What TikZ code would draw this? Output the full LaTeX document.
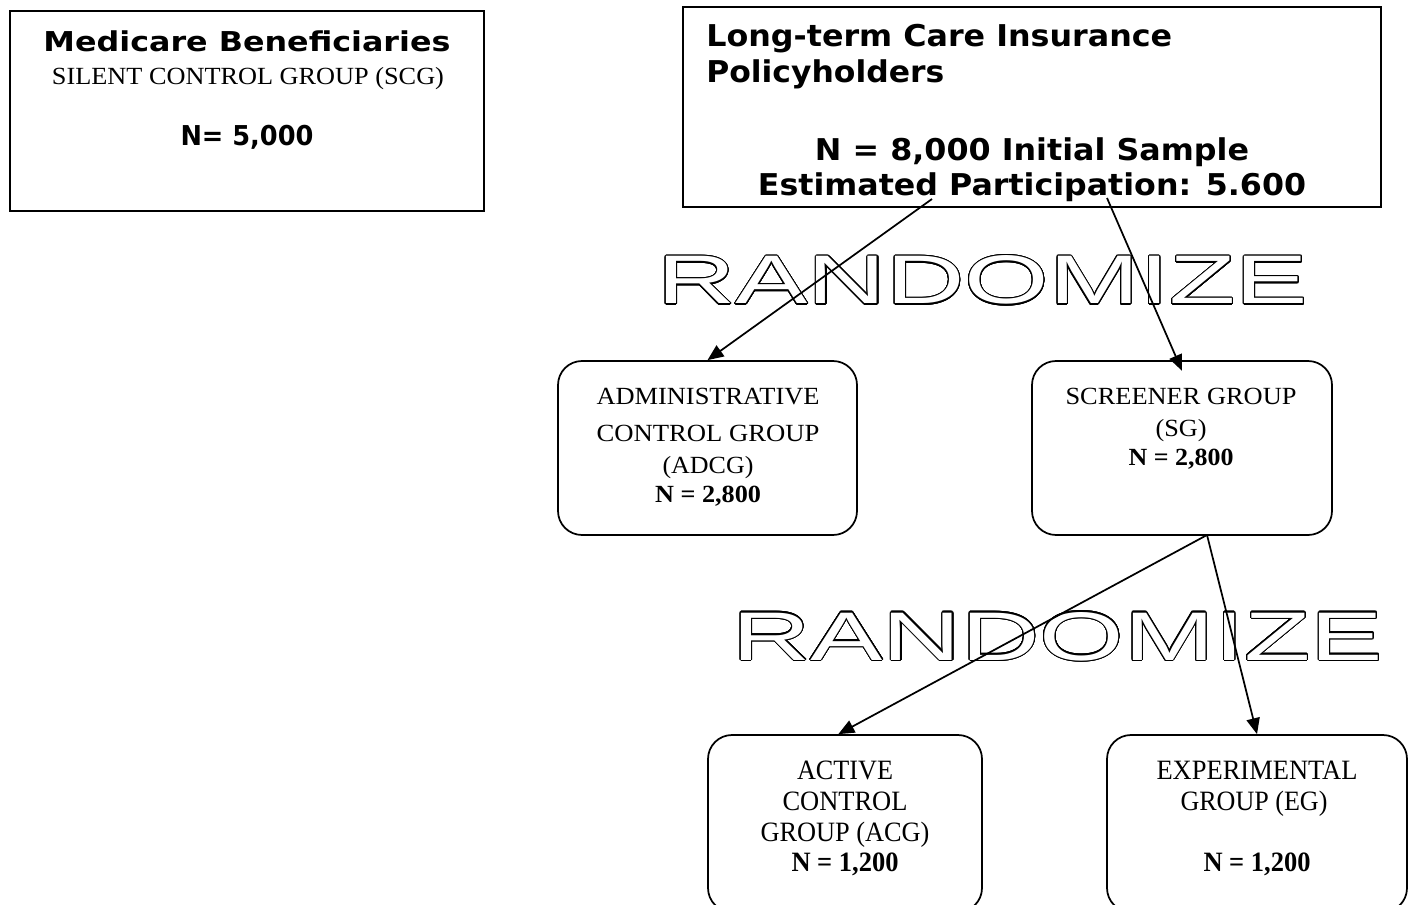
\documentclass[tikz,border=0pt]{standalone}
\usepackage{fontspec}
\usepackage{graphicx}
\usepackage[copies]{contour}
\setmainfont{Liberation Serif}
\newfontfamily\dv{DejaVu Sans}
\newfontfamily\lsans{Liberation Sans}
\usetikzlibrary{arrows.meta}
\newlength\px
\setlength\px{0.75pt}
\newcommand\fw[2]{\resizebox{#1\px}{\height}{#2}}
\contourlength{0.8pt}
\contournumber{32}
\tikzset{
  sqbox/.style={draw, line width=1.3pt, inner sep=0pt},
  rbox/.style={draw, line width=1.3pt, rounded corners=18pt, inner sep=0pt},
  lbl/.style={anchor=base, inner sep=0pt},
  hdr/.style={lbl, font=\dv\bfseries\fontsize{20.5pt}{24pt}\selectfont},
  ltcf/.style={lbl, font=\dv\bfseries\fontsize{22.5pt}{26pt}\selectfont},
  tms/.style={lbl, font=\fontsize{18.5pt}{22pt}\selectfont},
  tmsb/.style={lbl, font=\bfseries\fontsize{18.5pt}{22pt}\selectfont},
  tmbig/.style={lbl, font=\fontsize{21pt}{25pt}\selectfont},
  tmbigb/.style={lbl, font=\bfseries\fontsize{21pt}{25pt}\selectfont},
  rzt/.style={anchor=base west, inner sep=0pt, text=white},
  arr/.style={line width=1.3pt, -{Triangle[length=12pt,width=10pt]}},
}
\begin{document}
\begin{tikzpicture}[x=0.75pt, y=-0.75pt]
\useasboundingbox (0,0) rectangle (1412,905);
\begin{scope}
\clip (0,0) rectangle (1412,905);
% boxes
\node[sqbox, minimum width=355.5pt, minimum height=150pt] (mb) at (247,111) {};
\node[sqbox, minimum width=523.5pt, minimum height=150pt] (ltc) at (1032,107) {};
\node[rbox, minimum width=224.25pt, minimum height=130.5pt] (adcg) at (707.5,448) {};
\node[rbox, minimum width=225pt, minimum height=130.5pt] (sg) at (1182,448) {};
\node[rbox, minimum width=205.5pt, minimum height=132.75pt] (acg) at (845,823.5) {};
\node[rbox, minimum width=225pt, minimum height=132.75pt] (eg) at (1257,823.5) {};
\end{scope}
% Medicare box text
\node[hdr] (mb1) at (247,52) {\fw{407}{Medicare Beneficiaries}};
\node[tms] (mb2) at (248,85) {\fw{392}{SILENT CONTROL GROUP (SCG)}};
\node[hdr] (mb3) at (247,146) {\fw{133}{N= 5,000}};
% LTC box text
\node[ltcf, anchor=base west] (lt1) at (706,47) {\fw{466}{Long-term Care Insurance}};
\node[ltcf, anchor=base west] (lt2) at (706,83) {\fw{238}{Policyholders}};
\node[ltcf] (lt3) at (1032,161) {\fw{434}{N = 8,000 Initial Sample}};
\node[ltcf] (lt4) at (1032,196) {\fw{548}{Estimated Participation: 5.600}};
% ADCG text
\node[tms] (ad1) at (708,404) {\fw{223}{ADMINISTRATIVE}};
\node[tms] (ad2) at (708,441) {\fw{223}{CONTROL GROUP}};
\node[tms] (ad3) at (708,473) {\fw{91}{(ADCG)}};
\node[tmsb] (ad4) at (708,502) {\fw{106}{N = 2,800}};
% SG text
\node[tms] (sg1) at (1181,404) {\fw{231}{SCREENER GROUP}};
\node[tms] (sg2) at (1181,436) {\fw{51}{(SG)}};
\node[tmsb] (sg3) at (1181,465) {\fw{105}{N = 2,800}};
% ACG text
\node[tmbig] (ac1) at (845,779) {\fw{96}{ACTIVE}};
\node[tmbig] (ac2) at (845,810) {\fw{125}{CONTROL}};
\node[tmbig] (ac3) at (845,841) {\fw{169}{GROUP (ACG)}};
\node[tmbigb] (ac4) at (845,871) {\fw{107}{N = 1,200}};
% EG text
\node[tmbig] (eg1) at (1257,779) {\fw{201}{EXPERIMENTAL}};
\node[tmbig] (eg2) at (1254,810) {\fw{147}{GROUP (EG)}};
\node[tmbigb] (eg3) at (1257,871) {\fw{107}{N = 1,200}};
% RANDOMIZE labels
\node[rzt] (rz1) at (657,304) {\contour{black}{\resizebox{651\px}{48\px}{\lsans RANDOMIZE}}};
\node[rzt] (rz2) at (732,660) {\contour{black}{\resizebox{651\px}{48\px}{\lsans RANDOMIZE}}};
% connectors
\coordinate (ltcL) at (932,199);
\coordinate (ltcR) at (1107,198);
\coordinate (split) at (1207,535);
\draw[arr] (ltcL) -- (adcg.north);
\draw[arr] (ltcR) -- ([yshift=-8pt]sg.north);
\draw[arr] (split) -- ([xshift=-5pt]acg.north);
\draw[arr] (split) -- (eg.north);
\end{tikzpicture}
\end{document}
